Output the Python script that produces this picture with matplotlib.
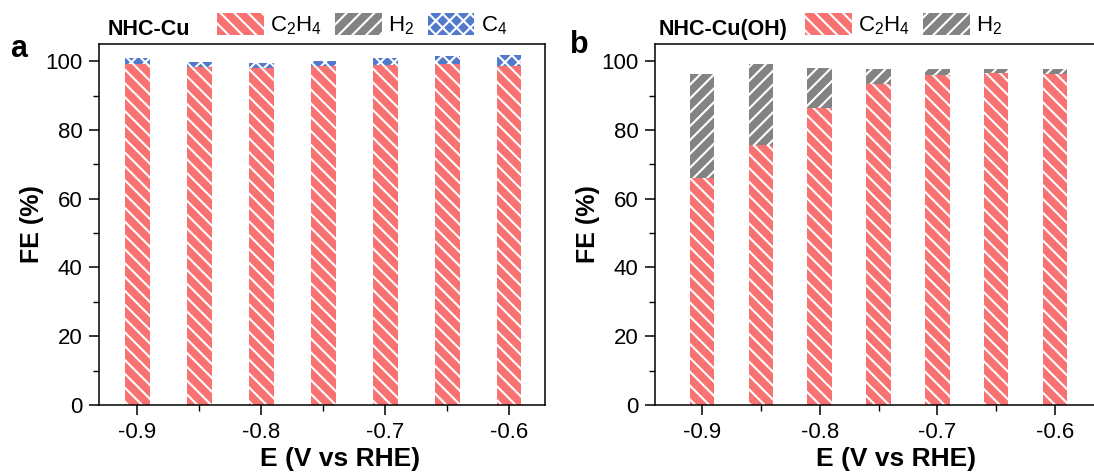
import matplotlib
matplotlib.use("Agg")
import matplotlib.pyplot as plt
from matplotlib.patches import Patch
from matplotlib.ticker import MultipleLocator

# render dpi; hatch spacing is tied to it, so sizes below are given
# as pixel-ish values at 100 dpi and rescaled with px()
DPI = 83
W, H = 1094, 473


def px(v):
    return v * 100.0 / DPI


plt.rcParams['font.family'] = ['Liberation Sans', 'DejaVu Sans']
plt.rcParams['mathtext.fontset'] = 'custom'
plt.rcParams['mathtext.rm'] = 'Liberation Sans'
plt.rcParams['hatch.linewidth'] = px(1.5)

# potentials (V vs RHE)
potential = [-0.9, -0.85, -0.8, -0.75, -0.7, -0.65, -0.6]

# NHC-Cu faradaic efficiencies (%)
cu_c2h4 = [99.3, 98.4, 98.0, 98.5, 98.8, 99.3, 98.6]
cu_c4 = [1.7, 1.4, 1.5, 1.6, 2.0, 2.2, 3.1]

# NHC-Cu(OH) faradaic efficiencies (%)
cuoh_c2h4 = [66.1, 75.7, 86.3, 93.4, 96.1, 96.7, 96.4]
cuoh_h2 = [30.3, 23.6, 11.7, 4.2, 1.5, 0.9, 1.2]

xticks = [-0.9, -0.8, -0.7, -0.6]

RED = '#F87272'
GRAY = '#838383'
BLUE = '#5179CC'
C2H4 = r'$\mathregular{C_2H_4}$'
H2 = r'$\mathregular{H_2}$'
C4 = r'$\mathregular{C_4}$'


def style_axes(ax, xlim):
    ax.set_xlim(*xlim)
    ax.set_ylim(0, 105)
    ax.set_xticks(xticks)
    ax.set_xticklabels([f"{t:.1f}" for t in xticks])
    ax.xaxis.set_minor_locator(MultipleLocator(0.05))
    ax.yaxis.set_major_locator(MultipleLocator(20))
    ax.yaxis.set_minor_locator(MultipleLocator(10))
    ax.tick_params(which='major', direction='out', length=px(7), width=px(1.1),
                   labelsize=px(16), pad=px(5))
    ax.tick_params(which='minor', direction='out', length=px(4), width=px(1.0))
    for s in ax.spines.values():
        s.set_linewidth(px(1.1))
    ax.set_xlabel('E (V vs RHE)', fontsize=px(19), fontweight='bold', labelpad=px(3))
    ax.xaxis.label.set_x(0.54)
    ax.set_ylabel('FE (%)', fontsize=px(18), fontweight='bold', labelpad=px(1))


def bar(ax, x, h, bottom, color, hatch, w=0.02):
    ax.bar(x, h, width=w, bottom=bottom, color=color, edgecolor='white',
           hatch=hatch, linewidth=0)


def add_legend(ax, items, x0):
    handles = [Patch(facecolor=c, edgecolor='white', hatch=h, linewidth=0, label=l)
               for c, h, l in items]
    ax.legend(handles=handles, loc='center left', bbox_to_anchor=(x0, 1.053),
              ncol=len(handles), frameon=False, fontsize=px(16),
              handlelength=2.1, handleheight=1.15, handletextpad=0.28,
              columnspacing=0.6, borderpad=0, borderaxespad=0)


fig = plt.figure(figsize=(W / DPI, H / DPI), dpi=DPI)

# panel a: NHC-Cu
ax1 = fig.add_axes([99 / W, 1 - 405 / H, 446 / W, 361 / H])
bar(ax1, potential, cu_c2h4, 0, RED, '\\\\')
bar(ax1, potential, cu_c4, cu_c2h4, BLUE, 'xx')
style_axes(ax1, (-0.931, -0.571))
ax1.text(-0.18, 0.985, 'a', transform=ax1.transAxes, fontsize=px(22),
         fontweight='bold', ha='center', va='center')
ax1.text(0.02, 1.04, 'NHC-Cu', transform=ax1.transAxes, fontsize=px(15.5),
         fontweight='bold', va='center')
add_legend(ax1, [(RED, '\\\\', C2H4), (GRAY, '//', H2), (BLUE, 'xx', C4)], 0.265)

# panel b: NHC-Cu(OH)
ax2 = fig.add_axes([655 / W, 1 - 405 / H, 447 / W, 361 / H])
bar(ax2, potential, cuoh_c2h4, 0, RED, '\\\\', w=0.021)
bar(ax2, potential, cuoh_h2, cuoh_c2h4, GRAY, '//', w=0.021)
style_axes(ax2, (-0.94, -0.56))
ax2.text(-0.17, 0.997, 'b', transform=ax2.transAxes, fontsize=px(22),
         fontweight='bold', ha='center', va='center')
ax2.text(0.009, 1.04, 'NHC-Cu(OH)', transform=ax2.transAxes, fontsize=px(15.5),
         fontweight='bold', va='center')
add_legend(ax2, [(RED, '\\\\', C2H4), (GRAY, '//', H2)], 0.336)

fig.savefig('out.png', dpi=DPI)
plt.close(fig)
